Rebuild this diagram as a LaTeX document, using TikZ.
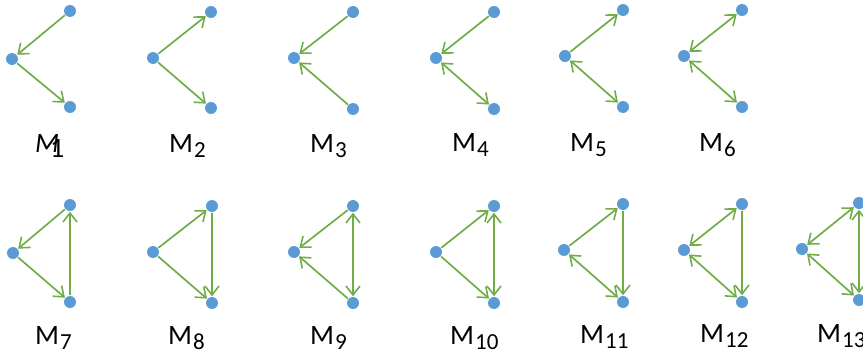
\documentclass[tikz,border=0pt]{standalone}
\usepackage{fontspec}
\setmainfont{Carlito}
\usetikzlibrary{arrows.meta}
\definecolor{dotblue}{HTML}{5B9BD5}
\definecolor{edgegreen}{HTML}{70AD47}
\newcommand{\mlab}[1]{M\kern1pt\raisebox{-5pt}{\fontsize{23}{23}\selectfont #1}}
\begin{document}
\begin{tikzpicture}[x=1pt,y=-1pt,
  dot/.style={circle,fill=dotblue,inner sep=0pt,minimum size=12pt},
  link/.style={draw=edgegreen,line width=1.7pt,shorten >=0.5pt,shorten <=0.5pt},
  one/.style={link,-{Straight Barb[length=9pt,width=14pt,line width=1.6pt]}},
  two/.style={link,{Straight Barb[length=9pt,width=14pt,line width=1.6pt]}-{Straight Barb[length=9pt,width=14pt,line width=1.6pt]}},
  lab/.style={anchor=base west,inner sep=0pt,font=\fontsize{28}{28}\selectfont}]
\useasboundingbox (0,0) rectangle (863,356);
% top row
\node[dot] (aL) at (12,59) {}; \node[dot] (aT) at (70,11) {}; \node[dot] (aB) at (70,107) {};
\node[dot] (bL) at (153,58) {}; \node[dot] (bT) at (211,12) {}; \node[dot] (bB) at (211,108) {};
\node[dot] (cL) at (294,58) {}; \node[dot] (cT) at (353,12) {}; \node[dot] (cB) at (353,109) {};
\node[dot] (dL) at (436,58) {}; \node[dot] (dT) at (494,12) {}; \node[dot] (dB) at (494,109) {};
\node[dot] (eL) at (565,56) {}; \node[dot] (eT) at (623,10) {}; \node[dot] (eB) at (623,107) {};
\node[dot] (fL) at (684,56) {}; \node[dot] (fT) at (742,10) {}; \node[dot] (fB) at (742,107) {};
% bottom row
\node[dot] (gL) at (13,253) {}; \node[dot] (gT) at (70,205) {}; \node[dot] (gB) at (70,302) {};
\node[dot] (hL) at (153,252) {}; \node[dot] (hT) at (212,206) {}; \node[dot] (hB) at (212,303) {};
\node[dot] (iL) at (294,252) {}; \node[dot] (iT) at (353,206) {}; \node[dot] (iB) at (353,303) {};
\node[dot] (jL) at (436,252) {}; \node[dot] (jT) at (494,206) {}; \node[dot] (jB) at (494,303) {};
\node[dot] (kL) at (564,250) {}; \node[dot] (kT) at (623,204) {}; \node[dot] (kB) at (623,302) {};
\node[dot] (lL) at (684,250) {}; \node[dot] (lT) at (742,204) {}; \node[dot] (lB) at (742,302) {};
\node[dot] (mL) at (802,249) {}; \node[dot] (mT) at (859,203) {}; \node[dot] (mB) at (859,300) {};
% edges top
\draw[one] (aT) -- (aL); \draw[one] (aL) -- (aB);
\draw[one] (bL) -- (bT); \draw[one] (bL) -- (bB);
\draw[one] (cT) -- (cL); \draw[one] (cB) -- (cL);
\draw[one] (dT) -- (dL); \draw[two] (dL) -- (dB);
\draw[one] (eL) -- (eT); \draw[two] (eL) -- (eB);
\draw[two] (fL) -- (fT); \draw[two] (fL) -- (fB);
% edges bottom
\draw[one] (gT) -- (gL); \draw[one] (gL) -- (gB); \draw[one] (gB) -- (gT);
\draw[one] (hL) -- (hT); \draw[one] (hL) -- (hB); \draw[one] (hT) -- (hB);
\draw[one] (iT) -- (iL); \draw[one] (iB) -- (iL); \draw[two] (iT) -- (iB);
\draw[one] (jL) -- (jT); \draw[one] (jL) -- (jB); \draw[two] (jT) -- (jB);
\draw[one] (kL) -- (kT); \draw[two] (kL) -- (kB); \draw[one] (kT) -- (kB);
\draw[two] (lL) -- (lT); \draw[two] (lL) -- (lB); \draw[one] (lT) -- (lB);
\draw[two] (mL) -- (mT); \draw[two] (mL) -- (mB); \draw[two] (mT) -- (mB);
% labels
\node[lab] (la) at (35,152) {\textit{M}\kern-9pt\raisebox{-5pt}{1}};
\node[lab] (lb) at (169,152) {\mlab{2}};
\node[lab] (lc) at (310,152) {\mlab{3}};
\node[lab] (ld) at (452,151) {\mlab{4}};
\node[lab] (le) at (570,151) {\mlab{5}};
\node[lab] (lf) at (699,151) {\mlab{6}};
\node[lab] (lg) at (35,344) {\mlab{7}};
\node[lab] (lh) at (168,344) {\mlab{8}};
\node[lab] (li) at (310,344) {\mlab{9}};
\node[lab] (lj) at (450,344) {\mlab{10}};
\node[lab] (lk) at (580,343) {\mlab{11}};
\node[lab] (ll) at (700,342) {\mlab{12}};
\node[lab] (lm) at (817,342) {\mlab{13}};
\end{tikzpicture}
\end{document}
